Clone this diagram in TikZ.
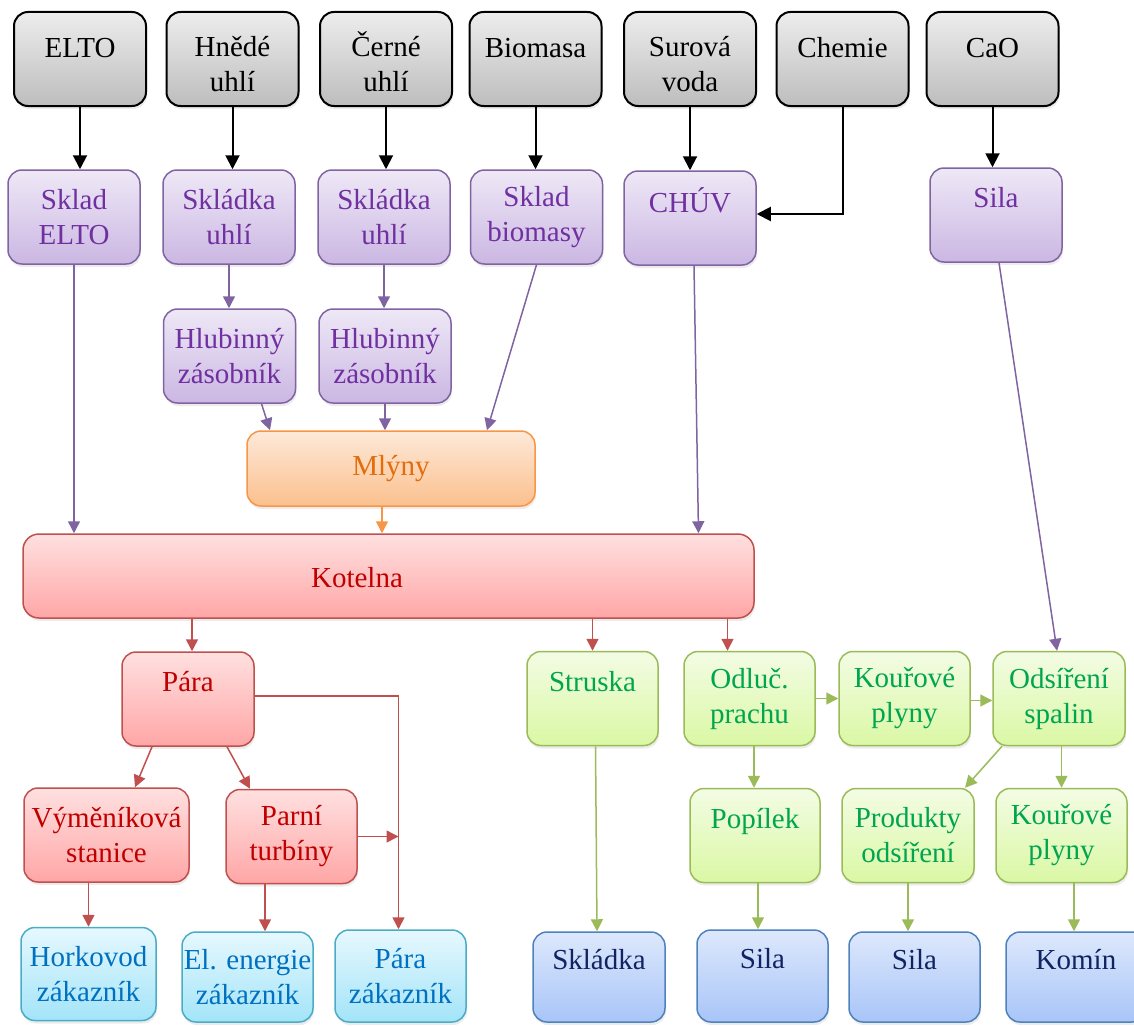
\documentclass[tikz,border=0pt]{standalone}
\usepackage{fontspec}
\setmainfont{Liberation Serif}
\usetikzlibrary{arrows.meta,shadows}
\definecolor{grTop}{HTML}{EDEDED}\definecolor{grBot}{HTML}{BDBDBD}
\definecolor{puTop}{HTML}{EEE8F6}\definecolor{puBot}{HTML}{CBB7E3}\definecolor{puLine}{HTML}{8064A2}\definecolor{puText}{HTML}{7030A0}
\definecolor{orTop}{HTML}{FDE9D9}\definecolor{orBot}{HTML}{FBC08E}\definecolor{orLine}{HTML}{F79646}\definecolor{orText}{HTML}{E46C0A}
\definecolor{reTop}{HTML}{FFE0E0}\definecolor{reBot}{HTML}{FFA6A6}\definecolor{reLine}{HTML}{C0504D}\definecolor{reText}{HTML}{C00000}
\definecolor{gnTop}{HTML}{F3FCE4}\definecolor{gnBot}{HTML}{DAF8A4}\definecolor{gnLine}{HTML}{9BBB59}\definecolor{gnText}{HTML}{00A550}
\definecolor{cyTop}{HTML}{E6F8FE}\definecolor{cyBot}{HTML}{A3E4F8}\definecolor{cyLine}{HTML}{4BACC6}\definecolor{cyText}{HTML}{0070C0}
\definecolor{blTop}{HTML}{DDE8FC}\definecolor{blBot}{HTML}{A8C5F8}\definecolor{blLine}{HTML}{4F81BD}\definecolor{blText}{HTML}{0F2461}
\newcommand\boxfont{\fontsize{29}{35}\selectfont}
\newcommand\up{\rule{0pt}{31pt}}
\tikzset{
  anybox/.style={rounded corners=14pt, minimum width=132pt, minimum height=94pt, inner sep=0pt,
    align=center, line width=1.5pt, font=\boxfont,
    drop shadow={opacity=0.15, shadow xshift=1pt, shadow yshift=-3pt}},
  srcbox/.style={anybox, draw=black, line width=2pt, top color=grTop, bottom color=grBot, text=black},
  purbox/.style={anybox, draw=puLine, top color=puTop, bottom color=puBot, text=puText},
  orbox/.style={anybox, draw=orLine, top color=orTop, bottom color=orBot, text=orText},
  redbox/.style={anybox, draw=reLine, top color=reTop, bottom color=reBot, text=reText},
  grnbox/.style={anybox, draw=gnLine, top color=gnTop, bottom color=gnBot, text=gnText},
  cybox/.style={anybox, draw=cyLine, top color=cyTop, bottom color=cyBot, text=cyText},
  blbox/.style={anybox, draw=blLine, top color=blTop, bottom color=blBot, text=blText},
  blkarr/.style={draw=black, line width=2pt, -{Triangle[length=14pt,width=14pt]}},
  purarr/.style={draw=puLine, line width=1.5pt, -{Triangle[length=12pt,width=12pt]}},
  orarr/.style={draw=orLine, line width=1.5pt, -{Triangle[length=12pt,width=12pt]}},
  redarr/.style={draw=reLine, line width=1.5pt, -{Triangle[length=12pt,width=12pt]}},
  grnarr/.style={draw=gnLine, line width=1.5pt, -{Triangle[length=12pt,width=12pt]}},
}
\begin{document}
\begin{tikzpicture}[x=1pt,y=-1pt]
\useasboundingbox (0,0) rectangle (1134,1025);
% row 1
\node[srcbox] (elto) at (80,59) {\up ELTO\\~};
\node[srcbox] (hnede) at (232.5,59) {\up Hnědé\\uhlí};
\node[srcbox] (cerne) at (386,59) {\up Černé\\uhlí};
\node[srcbox] (biomasa) at (535.5,59) {\up Biomasa\\~};
\node[srcbox] (surova) at (690,59) {\up Surová\\voda};
\node[srcbox] (chemie) at (842.5,59) {\up Chemie\\~};
\node[srcbox] (cao) at (992.5,59) {\up CaO\\~};
% row 2
\node[purbox] (skladelto) at (74,217) {Sklad\\ELTO};
\node[purbox] (skladka1) at (229,217) {Skládka\\uhlí};
\node[purbox] (skladka2) at (384,217) {Skládka\\uhlí};
\node[purbox] (skladbio) at (536.5,217) {Sklad\\biomasy};
\node[purbox] (chuv) at (690,218) {CHÚV\\~};
\node[purbox] (sila0) at (996,215) {Sila\\~};
% row 3
\node[purbox] (h1) at (229.5,356) {Hlubinný\\zásobník};
\node[purbox] (h2) at (385,356) {Hlubinný\\zásobník};
\node[orbox, minimum width=288pt, minimum height=75pt] (mlyny) at (391,468.5) {Mlýny};
\node[redbox, minimum width=731pt, minimum height=84pt, rounded corners=16pt] (kotelna) at (388.5,576) {};
\node[text=reText, font=\boxfont, inner sep=0pt] (kotelnalabel) at (357,578) {Kotelna};
% row 4
\node[redbox] (para) at (188,699) {Pára\\~};
\node[grnbox, minimum width=131pt] (struska) at (592.5,698.5) {Struska\\~};
\node[grnbox, minimum width=131pt] (odluc) at (749.5,698.5) {Odluč.\\prachu};
\node[grnbox, minimum width=131pt] (kour1) at (904.5,698.5) {Kouřové\\plyny};
\node[grnbox] (odsir) at (1059,698.5) {Odsíření\\spalin};
% row 5
\node[redbox, minimum width=165pt] (vymen) at (106.5,835) {Výměníková\\stanice};
\node[redbox, minimum width=131pt] (parni) at (291.5,836.5) {Parní\\turbíny};
\node[grnbox, minimum width=130pt] (popilek) at (755,835.5) {Popílek\\~};
\node[grnbox] (produkty) at (908,835.5) {Produkty\\odsíření};
\node[grnbox, minimum width=131pt] (kour2) at (1061.5,835.5) {Kouřové\\plyny};
% row 6
\node[cybox, minimum width=135pt, minimum height=93pt] (horkovod) at (88.5,974) {Horkovod\\zákazník};
\node[cybox, minimum width=131pt, minimum height=90pt] (elenergie) at (247.5,977) {El. energie\\zákazník};
\node[cybox, minimum width=131pt, minimum height=92pt] (parazak) at (400.5,976) {Pára\\zákazník};
\node[blbox, minimum height=90pt] (skladka3) at (599,977) {Skládka\\~};
\node[blbox, minimum width=131pt, minimum height=92pt] (sila1) at (762.5,976) {Sila\\~};
\node[blbox, minimum width=131pt, minimum height=90pt] (sila2) at (914.5,977) {Sila\\~};
\node[blbox, minimum width=140pt, minimum height=90pt] (komin) at (1076,977) {Komín\\~};
% black arrows
\draw[blkarr] (elto.south) -- (elto.south |- skladelto.north);
\draw[blkarr] (hnede.south) -- (hnede.south |- skladka1.north);
\draw[blkarr] (cerne.south) -- (cerne.south |- skladka2.north);
\draw[blkarr] (biomasa.south) -- (biomasa.south |- skladbio.north);
\draw[blkarr] (surova.south) -- (surova.south |- chuv.north);
\draw[blkarr] (cao.south) -- (cao.south |- sila0.north);
\coordinate (chin) at ([yshift=4pt]chuv.east);
\draw[blkarr] (chemie.south) |- (chin);
% purple arrows
\draw[purarr] (skladelto.south) -- (skladelto.south |- kotelna.north);
\draw[purarr] (skladka1.south) -- (skladka1.south |- h1.north);
\draw[purarr] (skladka2.south) -- (skladka2.south |- h2.north);
\draw[purarr] (skladbio.south) -- ([xshift=96pt]mlyny.north);
\draw[purarr] ([xshift=32pt]h1.south) -- ([xshift=-121pt]mlyny.north);
\draw[purarr] (h2.south) -- (h2.south |- mlyny.north);
\coordinate (chout) at ([xshift=4pt]chuv.south);
\coordinate (kin) at ([xshift=310pt]kotelna.north);
\draw[purarr] (chout) -- (kin);
\draw[purarr] ([xshift=3pt]sila0.south) -- ([xshift=-2pt]odsir.north);
% orange
\coordinate (mout) at ([xshift=-9pt]mlyny.south);
\draw[orarr] (mout) -- (mout |- kotelna.north);
% red
\coordinate (k2p) at ([xshift=4pt]para.north);
\draw[redarr] (k2p |- kotelna.south) -- (k2p);
\draw[redarr] (struska.north |- kotelna.south) -- (struska.north);
\coordinate (k2o) at ([xshift=-22pt]odluc.north);
\draw[redarr] (k2o |- kotelna.south) -- (k2o);
\draw[redarr] ([xshift=-36pt]para.south) -- ([xshift=28.5pt]vymen.north);
\draw[redarr] ([xshift=39pt]para.south) -- ([xshift=-41.5pt]parni.north);
\coordinate (pz) at ([xshift=-2pt]parazak.north);
\draw[redarr] ([yshift=3pt]para.east) -| (pz);
\draw[redarr] (parni.east) -- (parni.east -| pz);
\draw[redarr] (horkovod.north |- vymen.south) -- (horkovod.north);
\coordinate (p2e) at ([xshift=-26.5pt]parni.south);
\draw[redarr] (p2e) -- (p2e |- elenergie.north);
% green
\draw[grnarr] ([xshift=3pt]struska.south) -- ([xshift=-2pt]skladka3.north);
\draw[grnarr] (odluc.east) -- (kour1.west);
\draw[grnarr] ([yshift=-2pt]kour1.east) -- ([yshift=-2pt]odsir.west);
\coordinate (o2p) at ([xshift=4.5pt]odluc.south);
\draw[grnarr] (o2p) -- (o2p |- popilek.north);
\draw[grnarr] ([xshift=-57pt]odsir.south) -- ([xshift=57pt]produkty.north);
\draw[grnarr] (kour2.north |- odsir.south) -- (kour2.north);
\coordinate (p2s) at ([xshift=3pt]popilek.south);
\draw[grnarr] (p2s) -- (p2s |- sila1.north);
\draw[grnarr] (produkty.south) -- (produkty.south |- sila2.north);
\coordinate (k2k) at ([xshift=-2pt]komin.north);
\draw[grnarr] (k2k |- kour2.south) -- (k2k);
\end{tikzpicture}
\end{document}
